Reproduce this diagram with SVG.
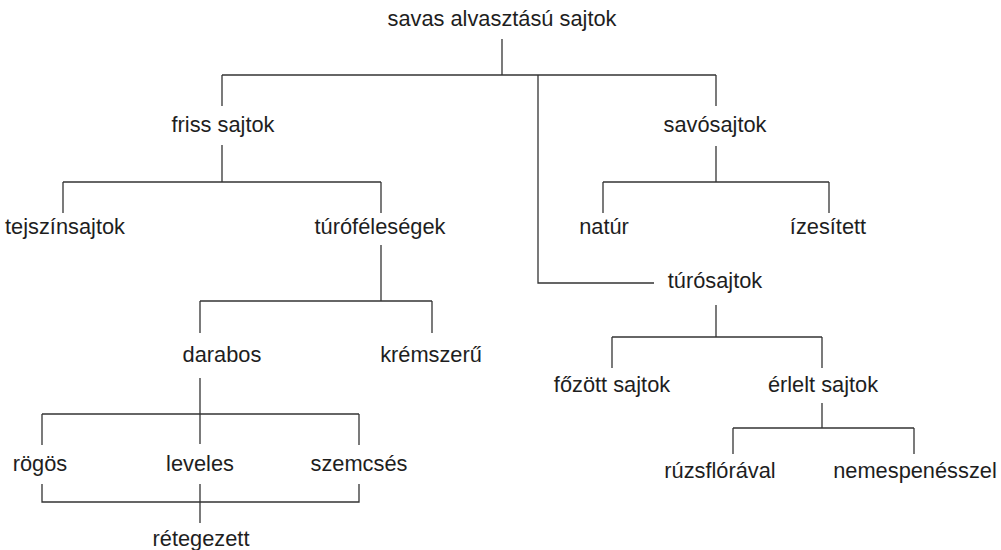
<svg xmlns="http://www.w3.org/2000/svg" width="1001" height="550" viewBox="0 0 1001 550">
  <style>
    .lbl { font-family: "Liberation Sans", Arial, sans-serif; font-size: 21.8px; fill: #1e1e1e; text-anchor: middle; }
    .conn line, .conn polyline { stroke: #333; stroke-width: 1.3; fill: none; }
  </style>
  <rect width="1001" height="550" fill="#fff"/>

  <g id="connectors" class="conn">
    <!-- root -->
    <line x1="502" y1="39" x2="502" y2="75"/>
    <line x1="222" y1="75" x2="716" y2="75"/>
    <line x1="222" y1="75" x2="222" y2="106"/>
    <line x1="716" y1="75" x2="716" y2="106"/>
    <polyline points="538,75 538,283 654,283"/>
    <!-- friss sajtok -->
    <line x1="222" y1="145" x2="222" y2="182"/>
    <line x1="63" y1="182" x2="381" y2="182"/>
    <line x1="63" y1="182" x2="63" y2="213"/>
    <line x1="381" y1="182" x2="381" y2="213"/>
    <!-- túróféleségek -->
    <line x1="381" y1="245" x2="381" y2="301"/>
    <line x1="200" y1="301" x2="432" y2="301"/>
    <line x1="200" y1="301" x2="200" y2="333"/>
    <line x1="432" y1="301" x2="432" y2="333"/>
    <!-- darabos -->
    <line x1="200" y1="378" x2="200" y2="444"/>
    <line x1="42" y1="414" x2="359" y2="414"/>
    <line x1="42" y1="414" x2="42" y2="445"/>
    <line x1="359" y1="414" x2="359" y2="445"/>
    <!-- rétegezett -->
    <polyline points="42,484 42,502 359,502 359,484"/>
    <line x1="200" y1="484" x2="200" y2="523"/>
    <!-- savósajtok -->
    <line x1="716" y1="146" x2="716" y2="182"/>
    <line x1="603" y1="182" x2="829" y2="182"/>
    <line x1="603" y1="182" x2="603" y2="213"/>
    <line x1="829" y1="182" x2="829" y2="213"/>
    <!-- túrósajtok -->
    <line x1="716" y1="305" x2="716" y2="337"/>
    <line x1="612" y1="337" x2="822" y2="337"/>
    <line x1="612" y1="337" x2="612" y2="368"/>
    <line x1="822" y1="337" x2="822" y2="368"/>
    <!-- érlelt sajtok -->
    <line x1="822" y1="403" x2="822" y2="428"/>
    <line x1="733" y1="428" x2="914" y2="428"/>
    <line x1="733" y1="428" x2="733" y2="454"/>
    <line x1="914" y1="428" x2="914" y2="454"/>
  </g>

  <g id="n-root"><text class="lbl" x="502" y="26">savas alvasztású sajtok</text></g>
  <g id="n-friss"><text class="lbl" x="223" y="132">friss sajtok</text></g>
  <g id="n-savo"><text class="lbl" x="715" y="132">savósajtok</text></g>
  <g id="n-tejszin"><text class="lbl" x="65" y="234">tejszínsajtok</text></g>
  <g id="n-turofel"><text class="lbl" x="380" y="234">túróféleségek</text></g>
  <g id="n-natur"><text class="lbl" x="604" y="234">natúr</text></g>
  <g id="n-izes"><text class="lbl" x="828" y="234">ízesített</text></g>
  <g id="n-turosajt"><text class="lbl" x="715" y="288">túrósajtok</text></g>
  <g id="n-darabos"><text class="lbl" x="222" y="362">darabos</text></g>
  <g id="n-krem"><text class="lbl" x="431" y="362">krémszerű</text></g>
  <g id="n-fozott"><text class="lbl" x="612" y="392">főzött sajtok</text></g>
  <g id="n-erlelt"><text class="lbl" x="823" y="392">érlelt sajtok</text></g>
  <g id="n-rogos"><text class="lbl" x="40" y="471">rögös</text></g>
  <g id="n-leveles"><text class="lbl" x="200" y="471">leveles</text></g>
  <g id="n-szemcses"><text class="lbl" x="359" y="471">szemcsés</text></g>
  <g id="n-ruzs"><text class="lbl" x="720" y="478">rúzsflórával</text></g>
  <g id="n-nemes"><text class="lbl" x="915" y="478">nemespenésszel</text></g>
  <g id="n-reteg"><text class="lbl" x="201" y="546">rétegezett</text></g>
</svg>
